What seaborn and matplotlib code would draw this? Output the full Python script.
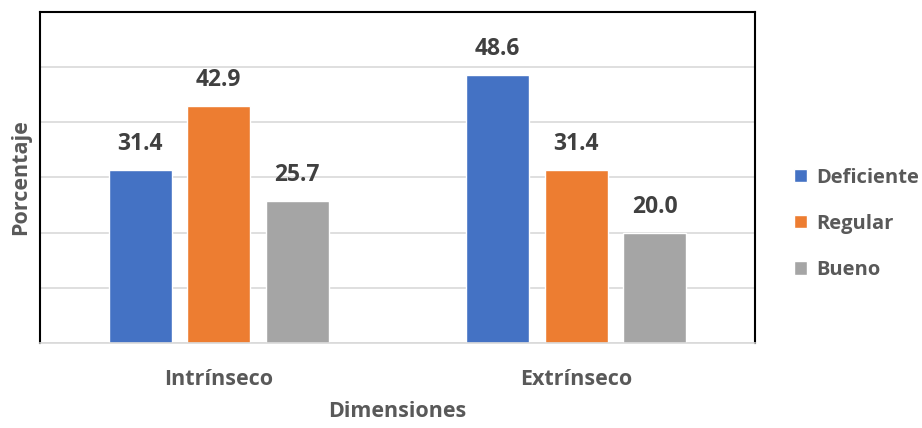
import matplotlib
matplotlib.use("Agg")
import matplotlib.pyplot as plt
import seaborn as sns
import pandas as pd

# Percentages per dimension and level
dimensiones = ["Intrínseco", "Extrínseco"]
niveles = ["Deficiente", "Regular", "Bueno"]
deficiente = [31.4, 48.6]
regular = [42.9, 31.4]
bueno = [25.7, 20.0]
colores = ["#4472C4", "#ED7D31", "#A5A5A5"]

df = pd.DataFrame({
    "Dimensiones": dimensiones * 3,
    "Nivel": [n for n in niveles for _ in dimensiones],
    "Porcentaje": deficiente + regular + bueno,
})

sns.set_theme(style="white")
plt.rcParams["font.family"] = ["Open Sans", "DejaVu Sans"]

fig = plt.figure(figsize=(9.22, 4.28), dpi=100)
ax = fig.add_axes([0.0434, 0.1986, 0.7755, 0.7734])

sns.barplot(data=df, x="Dimensiones", y="Porcentaje", hue="Nivel",
            hue_order=niveles, palette=colores, width=0.66, gap=0.2,
            saturation=1, ax=ax, legend=True)

ax.set_ylim(0, 60)
ax.set_xlim(-0.5, 1.5)
ax.set_yticks(range(0, 61, 10))
ax.set_yticklabels([])
ax.tick_params(axis="y", length=0)
ax.tick_params(axis="x", length=0, labelsize=15.5, colors="#595959", pad=18.5)
for lbl in ax.get_xticklabels():
    lbl.set_fontweight("bold")
ax.yaxis.grid(True, color="#D9D9D9", linewidth=1.2)
ax.set_axisbelow(True)

for side in ["left", "top", "right"]:
    ax.spines[side].set_color("#000000")
    ax.spines[side].set_linewidth(1.5)
ax.spines["bottom"].set_color("#D9D9D9")
ax.spines["bottom"].set_linewidth(1.2)

for cont in ax.containers:
    ax.bar_label(cont, fmt="%.1f", padding=10, fontsize=16.5,
                 fontweight="bold", color="#404040")

ax.set_ylabel("Porcentaje", fontsize=15.5, fontweight="bold", color="#595959", labelpad=3)
ax.set_xlabel("Dimensiones", fontsize=15.5, fontweight="bold", color="#595959", labelpad=8.5)

leg = ax.legend(loc="center left", bbox_to_anchor=(1.055, 0.36), frameon=False,
                fontsize=14.5, handlelength=0.65, handleheight=0.65,
                handletextpad=0.45, labelspacing=1.3, title=None,
                borderpad=0, borderaxespad=0)
for t in leg.get_texts():
    t.set_fontweight("bold")
    t.set_color("#595959")

fig.savefig("out.png", dpi=100)
